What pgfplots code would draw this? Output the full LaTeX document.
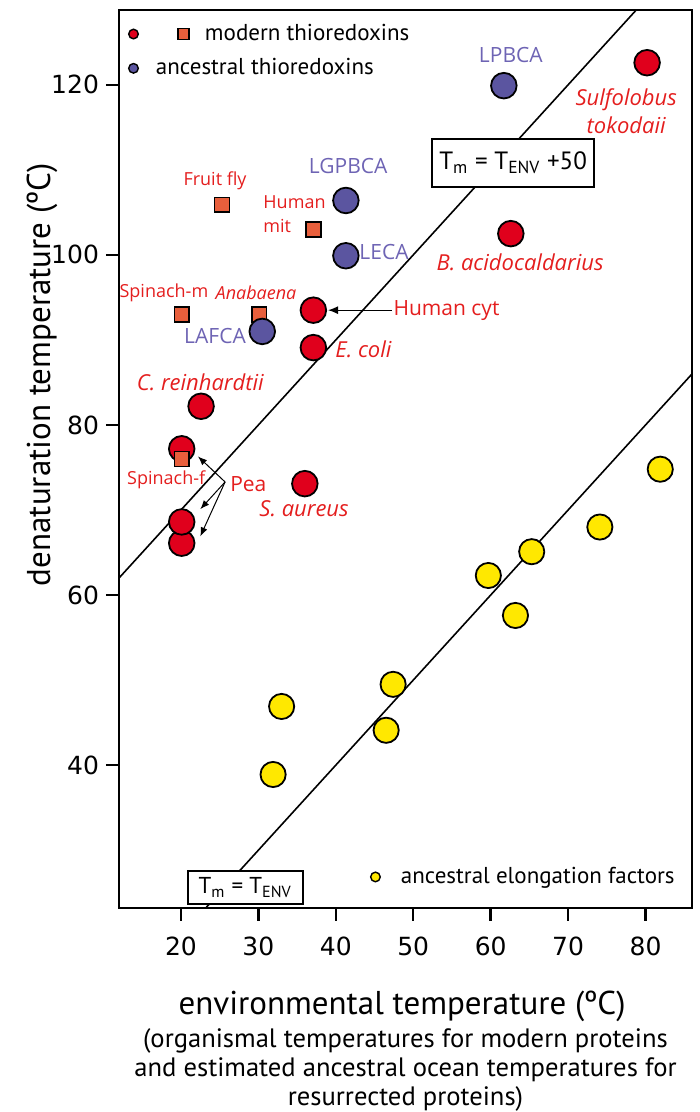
\documentclass[border=0pt]{standalone}
\usepackage{fontspec}
\setmainfont{Open Sans}
\newfontfamily\tickfont{DejaVu Sans}
\newfontfamily\gill{PT Sans}
\usepackage{pgfplots}
\pgfplotsset{compat=1.18}
\usetikzlibrary{arrows.meta}
\definecolor{modred}{RGB}{224,0,28}
\definecolor{sqc}{RGB}{232,95,60}
\definecolor{anc}{RGB}{91,85,160}
\definecolor{ancT}{RGB}{110,100,180}
\definecolor{efy}{RGB}{255,232,0}
\definecolor{labred}{RGB}{228,30,30}
\newcommand\szA{\fontsize{10.5}{12}\selectfont}
\newcommand\szB{\fontsize{11}{14}\selectfont}
\newcommand\szC{\fontsize{9}{12}\selectfont}
\begin{document}
\begin{tikzpicture}
\begin{axis}[
  name=ax,
  scale only axis, width=286.5pt, height=449pt,
  xmin=12, xmax=86, ymin=23.2, ymax=128.8,
  xtick={20,30,...,80}, ytick={40,60,...,120},
  axis line style={line width=1.2pt},
  tick style={line width=1.2pt, black},
  tick align=outside, major tick length=6.5pt,
  xtick pos=bottom, ytick pos=left,
  ticklabel style={font=\tickfont\fontsize{12.5}{14}\selectfont},
  xticklabel style={yshift=-4.5pt},
  /pgf/number format/assume math mode=true,
  clip=false,
  legend style={at={(0,1)}, anchor=north west, xshift=4.3pt, yshift=-6pt,
    draw=none, fill=none, inner sep=0pt, row sep=5.5pt,
    font=\gill\fontsize{11.5}{13}\selectfont, nodes={inner sep=1pt}},
  legend cell align=left,
]
\addlegendimage{legend image code/.code={\draw[line width=0.7pt, fill=modred] (0pt,0pt) circle (2.4pt); \draw[overlay, line width=0.7pt, fill=sqc] (22.3pt,-2.7pt) rectangle (27.7pt,2.7pt);}}
\addlegendentry{\hspace*{32pt}modern thioredoxins}
\addlegendimage{legend image code/.code={\draw[line width=0.7pt, fill=anc] (0pt,0pt) circle (2.4pt);}}
\addlegendentry{\hspace*{7.5pt}ancestral thioredoxins}

% reference lines
\addplot[black, line width=0.8pt, forget plot] coordinates {(23.2,23.2) (86,86)};
\addplot[black, line width=0.8pt, forget plot] coordinates {(12,62) (78.8,128.8)};

% modern thioredoxins (circles)
\addplot[only marks, mark=*, mark size=6.4pt, mark options={draw=black, fill=modred, line width=0.9pt}, forget plot]
 coordinates {(80.2,122.6) (62.6,102.5) (37.1,93.5) (37.1,89.1) (22.6,82.2) (20.1,77.2) (20.1,66.1) (20.1,68.6) (36.0,73.1)};
% modern thioredoxins (squares)
\addplot[only marks, mark=square*, mark size=3.7pt, mark options={draw=black, fill=sqc, line width=0.8pt}, forget plot]
 coordinates {(25.3,105.9) (37.1,103.0) (20.1,93.0) (30.1,93.0) (20.1,76.0)};
% ancestral thioredoxins
\addplot[only marks, mark=*, mark size=6.4pt, mark options={draw=black, fill=anc, line width=0.9pt}, forget plot]
 coordinates {(61.7,119.9) (41.3,106.4) (41.3,99.9) (30.5,91.0)};
% ancestral elongation factors
\addplot[only marks, mark=*, mark size=6.3pt, mark options={draw=black, fill=efy, line width=0.9pt}, forget plot]
 coordinates {(31.9,38.9) (33.0,46.9) (46.5,44.1) (47.4,49.5) (59.7,62.3) (63.2,57.6) (65.3,65.1) (74.1,68.0) (81.9,74.8)};

% boxes
\node[draw, line width=1pt, fill=white, minimum width=81pt, minimum height=24pt, inner sep=2pt, font=\gill\fontsize{12.5}{14}\selectfont] at (axis cs:62.9,110.8) {T\textsubscript{m} = T\textsubscript{ENV} +50};
\node[draw, line width=1pt, fill=white, minimum width=57.5pt, minimum height=16.5pt, inner sep=1.5pt, font=\gill\fontsize{11.5}{13}\selectfont] at (axis cs:28.3,25.6) {T\textsubscript{m} = T\textsubscript{ENV}};

% labels
\begin{scope}[every node/.style={inner sep=0pt}]
\node[text=ancT, font=\szA] at (axis cs:62.6,123.5) {LPBCA};
\node[text=labred, font=\szB\itshape, align=center] at (axis cs:77.5,116.9) {Sulfolobus\\tokodaii};
\node[text=labred, font=\szB\itshape] at (axis cs:63.8,99.1) {B. acidocaldarius};
\node[text=ancT, font=\szA] at (axis cs:41.6,110.4) {LGPBCA};
\node[text=labred, font=\szC] at (axis cs:24.4,108.7) {Fruit fly};
\node[text=labred, font=\szC, align=left, anchor=west] at (axis cs:30.6,104.8) {Human\\mit};
\node[text=ancT, font=\szA, anchor=west] at (axis cs:43.0,100.3) {LECA};
\node[text=labred, font=\szC] at (axis cs:17.8,95.5) {Spinach-m};
\node[text=labred, font=\szC\itshape] at (axis cs:29.7,95.5) {Anabaena};
\node[text=ancT, font=\szA] at (axis cs:24.4,90.5) {LAFCA};
\node[text=labred, font=\szA, anchor=west] at (axis cs:47.4,93.5) {Human cyt};
\node[text=labred, font=\szB\itshape, anchor=west] at (axis cs:39.9,88.9) {E. coli};
\node[text=labred, font=\szB\itshape] at (axis cs:22.5,85.0) {C. reinhardtii};
\node[text=labred, font=\szC] at (axis cs:18.1,73.5) {Spinach-f};
\node[text=labred, font=\szA] at (axis cs:28.7,73.1) {Pea};
\node[text=labred, font=\szB\itshape] at (axis cs:35.9,70.1) {S. aureus};
\end{scope}
\draw[line width=0.6pt, -{Latex[length=5pt,width=4pt]}] (axis cs:47.2,93.5) -- (axis cs:39.0,93.5);
\draw[line width=0.5pt, -{Latex[length=4.5pt,width=3.5pt]}] (axis cs:25.7,73.3) -- (axis cs:22.2,76.3);
\draw[line width=0.5pt, -{Latex[length=4.5pt,width=3.5pt]}] (axis cs:25.7,73.3) -- (axis cs:22.5,70.1);
\draw[line width=0.5pt, -{Latex[length=4.5pt,width=3.5pt]}] (axis cs:25.7,73.3) -- (axis cs:22.5,66.9);

% axis labels
\node[shift={(-38.5pt,0pt)}, rotate=90, font=\gill\fontsize{16.5}{18}\selectfont] at (rel axis cs:0,0.594) {denaturation temperature (ºC)};
\node[font=\gill\fontsize{16.5}{18}\selectfont] at (rel axis cs:0.494,0) [yshift=-49pt] {environmental temperature (ºC)};
\node[font=\gill\fontsize{13.3}{14.5}\selectfont, align=center] at (rel axis cs:0.5,0) [yshift=-81pt] {(organismal temperatures for modern proteins\\and estimated ancestral ocean temperatures for\\resurrected proteins)};
\coordinate (SW) at (rel axis cs:0,0);
\end{axis}
\begin{axis}[at={(ax.south west)}, anchor=south west,
  scale only axis, width=286.5pt, height=449pt, hide axis,
  xmin=0, xmax=1, ymin=0, ymax=1,
  legend style={at={(1,0)}, anchor=south east, xshift=-7.5pt, yshift=9.5pt,
    draw=none, fill=none, inner sep=0pt,
    font=\gill\fontsize{11.5}{13}\selectfont, nodes={inner sep=1pt}},
  legend cell align=left]
\addlegendimage{legend image code/.code={\draw[line width=0.7pt, fill=efy] (0pt,0pt) circle (2.4pt);}}
\addlegendentry{\hspace*{9pt}ancestral elongation factors}
\end{axis}
\pgfresetboundingbox
\path[use as bounding box] (SW) ++(-59.5pt,-102pt) rectangle ++(350pt,556pt);
\end{tikzpicture}
\end{document}
